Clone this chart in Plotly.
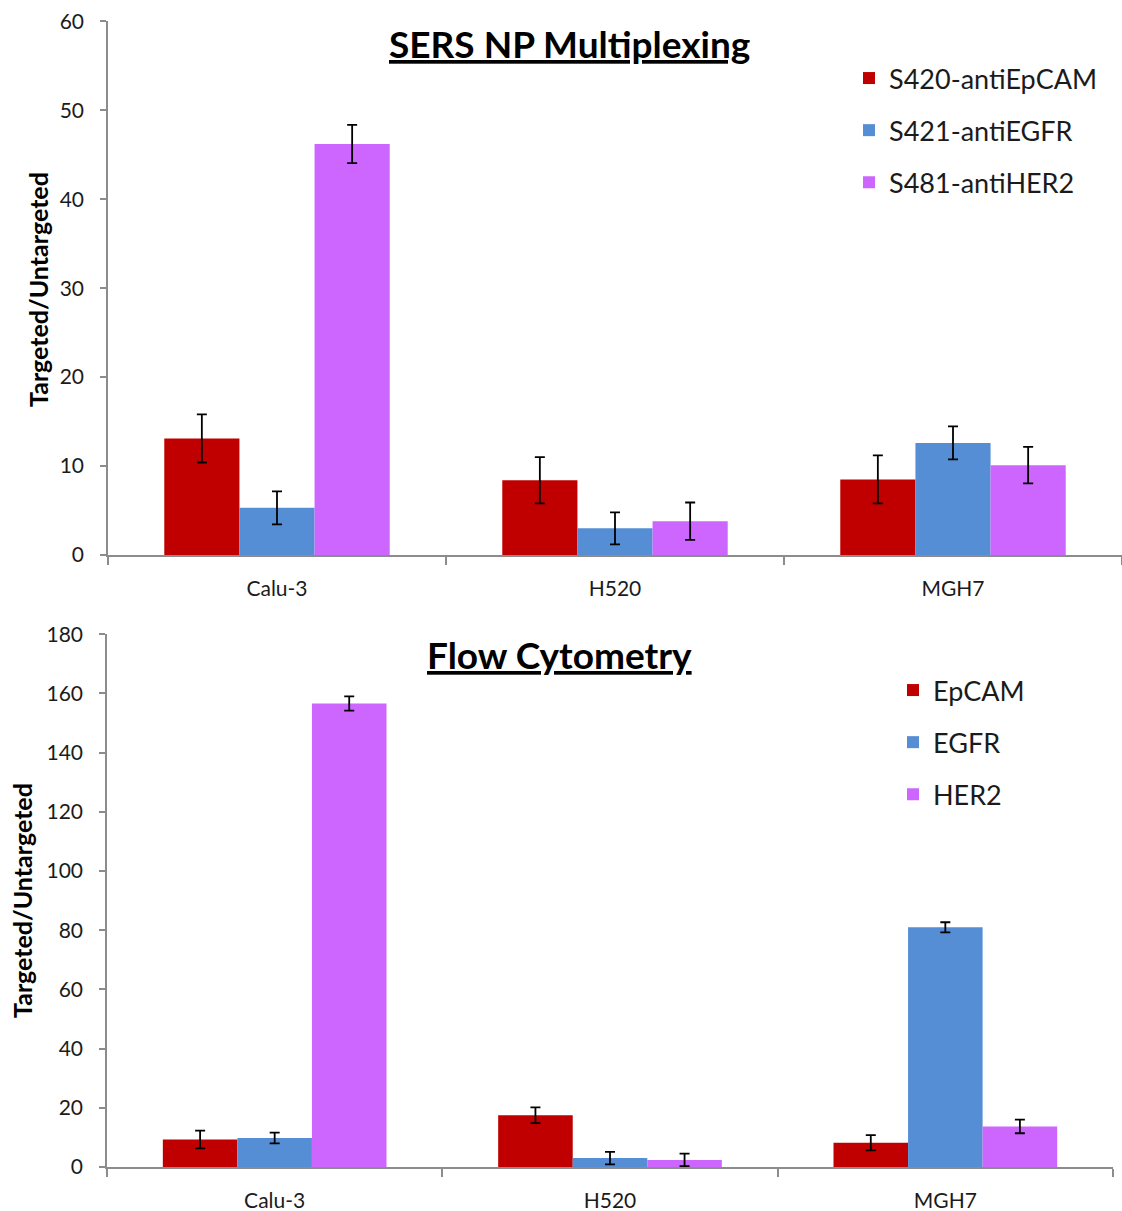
import plotly.graph_objects as go

# Cell lines on the category axis
cell_lines = ["Calu-3", "H520", "MGH7"]

# SERS nanoparticle multiplexing: targeted/untargeted ratios (mean and error)
sers_names = ["S420-antiEpCAM", "S421-antiEGFR", "S481-antiHER2"]
sers_epcam = [13.1, 8.4, 8.5]
sers_epcam_err = [2.7, 2.6, 2.7]
sers_egfr = [5.3, 3.0, 12.6]
sers_egfr_err = [1.85, 1.8, 1.85]
sers_her2 = [46.2, 3.8, 10.1]
sers_her2_err = [2.15, 2.1, 2.05]

# Flow cytometry: targeted/untargeted ratios (mean and error)
flow_names = ["EpCAM", "EGFR", "HER2"]
flow_epcam = [9.3, 17.5, 8.2]
flow_epcam_err = [3.0, 2.65, 2.6]
flow_egfr = [9.8, 3.0, 81.0]
flow_egfr_err = [1.8, 2.1, 1.7]
flow_her2 = [156.6, 2.4, 13.7]
flow_her2_err = [2.4, 2.1, 2.3]

colors = ["#C00000", "#558ED5", "#CC66FF"]

W, H = 1122, 1211
FONT = "Lato, 'Open Sans', sans-serif"
TXT = "#1b1b1b"
AXC = "#8c8c8c"


def px_x(p):
    return p / W


def px_y(p):
    return 1 - p / H


fig = go.Figure()

sers_vals = [(sers_epcam, sers_epcam_err), (sers_egfr, sers_egfr_err), (sers_her2, sers_her2_err)]
for name, (v, e), c in zip(sers_names, sers_vals, colors):
    fig.add_trace(go.Bar(
        x=cell_lines, y=v, name=name, marker=dict(color=c, line=dict(width=0)),
        error_y=dict(type="data", array=e, color="black", thickness=1.8, width=5),
        xaxis="x", yaxis="y", legend="legend", legendgroup="s" + name,
    ))

flow_vals = [(flow_epcam, flow_epcam_err), (flow_egfr, flow_egfr_err), (flow_her2, flow_her2_err)]
for name, (v, e), c in zip(flow_names, flow_vals, colors):
    fig.add_trace(go.Bar(
        x=cell_lines, y=v, name=name, marker=dict(color=c, line=dict(width=0)),
        error_y=dict(type="data", array=e, color="black", thickness=1.8, width=5),
        xaxis="x2", yaxis="y2", legend="legend2", legendgroup="f" + name,
    ))

yax_common = dict(
    showgrid=False, zeroline=False, showline=True, linecolor=AXC, linewidth=1.5,
    ticks="outside", ticklen=6, tickcolor=AXC, tickwidth=1.5, automargin=False,
    tickfont=dict(family=FONT, size=21, color=TXT), ticklabelstandoff=12,
)
xax_common = dict(
    showgrid=False, zeroline=False, showline=True, linecolor=AXC, linewidth=1.5,
    ticks="outside", ticklen=8, tickcolor=AXC, tickwidth=1.5, tickson="boundaries",
    tickfont=dict(family=FONT, size=21, color=TXT), ticklabelstandoff=14,
    range=[-0.5, 2.5], automargin=False,
)

fig.update_layout(
    width=W, height=H,
    margin=dict(l=0, r=0, t=0, b=0),
    paper_bgcolor="white", plot_bgcolor="white",
    barmode="group", bargap=0.333, bargroupgap=0,
    font=dict(family=FONT, color=TXT),
    xaxis=dict(domain=[px_x(108), 1], anchor="y", **xax_common),
    yaxis=dict(domain=[px_y(555), px_y(21.3)], anchor="x", range=[0, 60], dtick=10, **yax_common),
    xaxis2=dict(domain=[px_x(107), px_x(1113)], anchor="y2", **xax_common),
    yaxis2=dict(domain=[px_y(1167), px_y(634.3)], anchor="x2", range=[0, 180], dtick=20, **yax_common),
    legend=dict(
        x=px_x(849), y=px_y(54), xanchor="left", yanchor="top",
        font=dict(family=FONT, size=27, color=TXT), tracegroupgap=14,
        bgcolor="rgba(0,0,0,0)", borderwidth=0,
    ),
    legend2=dict(
        x=px_x(893), y=px_y(666), xanchor="left", yanchor="top",
        font=dict(family=FONT, size=27, color=TXT), tracegroupgap=14,
        bgcolor="rgba(0,0,0,0)", borderwidth=0,
    ),
    annotations=[
        dict(text="<b><u>SERS NP Multiplexing</u></b>", x=px_x(569), y=px_y(43),
             xref="paper", yref="paper", xanchor="center", yanchor="middle", showarrow=False,
             font=dict(family=FONT, size=37, color="black")),
        dict(text="<b><u>Flow Cytometry</u></b>", x=px_x(559), y=px_y(654),
             xref="paper", yref="paper", xanchor="center", yanchor="middle", showarrow=False,
             font=dict(family=FONT, size=37, color="black")),
        dict(text="<b>Targeted/Untargeted</b>", x=px_x(38), y=px_y(290),
             xref="paper", yref="paper", xanchor="center", yanchor="middle", showarrow=False,
             textangle=-90, font=dict(family=FONT, size=25, color="black")),
        dict(text="<b>Targeted/Untargeted</b>", x=px_x(22), y=px_y(901),
             xref="paper", yref="paper", xanchor="center", yanchor="middle", showarrow=False,
             textangle=-90, font=dict(family=FONT, size=25, color="black")),
    ],
)

fig.write_html("out.html")
